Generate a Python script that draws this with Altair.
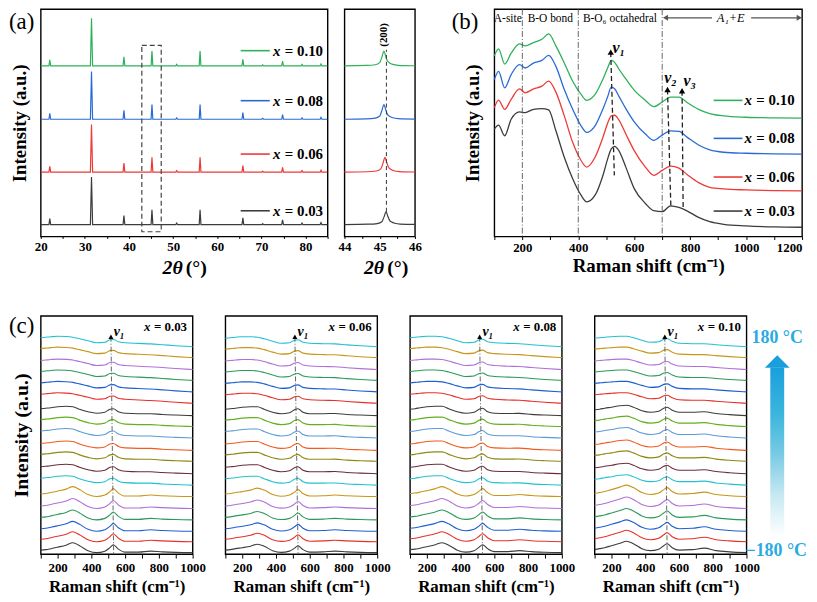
import altair as alt
import pandas as pd

FONT = "Liberation Serif"

# ---------------- (a) XRD ----------------
XRD_SAMPLES = ["0.03", "0.06", "0.08", "0.10"]
XRD_COLORS = ["#3c3c3c", "#ec3b36", "#2a6ad6", "#2fb15a"]
XRD_2THETA = [20, 21.85, 22.05, 22.25, 31.25, 31.5, 31.75, 38.65, 38.85, 39.05,
              45.0, 45.2, 45.4, 50.6, 50.8, 51.0, 55.9, 56.1, 56.3, 65.6, 65.8, 66.0,
              70.1, 70.3, 70.5, 74.6, 74.8, 75.0, 79.0, 79.2, 79.4, 83.3, 83.5, 83.7, 85]
XRD_INT = [0, 0, 12.5, 0, 0, 100, 0, 0, 19, 0,
           0, 31, 0, 0, 3, 0, 0, 31, 0, 0, 14, 0,
           0, 2, 0, 0, 10, 0, 0, 3, 0, 0, 4, 0, 0]
XRD_OFFSETS = [0, 110, 221, 333]
XRD_LEGEND_Y = [29, 148, 260, 365]

ZOOM_DX = [-1.3, -0.5, -0.25, -0.12, -0.06, 0.0, 0.05, 0.1, 0.16, 0.25, 0.4, 0.9]
ZOOM_SHAPE = [0.0, 0.03, 0.08, 0.22, 0.58, 1.0, 0.65, 0.33, 0.2, 0.1, 0.04, 0.01]
ZOOM_CENTERS = [45.18, 45.15, 45.12, 45.12]
ZOOM_HEIGHTS = [27, 31, 31, 31]

# ---------------- (b) Raman ----------------
B_SHIFT = [100, 115, 137, 160, 190, 210, 240, 270, 294, 320, 350, 380, 410, 430, 460, 490,
           505, 518, 530, 545, 570, 600, 640, 670, 700, 730, 760, 790, 830, 870, 920, 1000,
           1100, 1200]
B_I_003 = [325, 337, 305, 355, 377, 375, 385, 387, 383, 320, 240, 175, 125, 105, 125, 190,
           235, 265, 273, 260, 210, 145, 100, 78, 75, 93, 88, 77, 58, 45, 37, 32, 29, 28]
B_I_006 = [390, 413, 385, 415, 447, 435, 447, 455, 470, 437, 365, 285, 230, 210, 240, 305,
           343, 365, 367, 353, 310, 260, 210, 185, 200, 213, 207, 187, 163, 149, 144, 141,
           139, 138]
B_I_008 = [475, 500, 450, 490, 520, 510, 525, 533, 548, 515, 445, 385, 335, 315, 335, 390,
           423, 452, 447, 425, 387, 347, 310, 291, 307, 320, 318, 300, 277, 262, 255, 252,
           250, 249]
B_I_010 = [547, 568, 522, 555, 583, 577, 587, 597, 613, 577, 525, 470, 430, 412, 430, 480,
           510, 533, 527, 507, 477, 443, 412, 393, 407, 422, 422, 405, 385, 372, 365, 361,
           359, 358]
B_LEGEND_Y = [77, 180, 297, 412]

# ---------------- (c) temperature Raman ----------------
C_SHIFT = [100, 130, 160, 200, 250, 290, 330, 380, 430, 480, 510, 530, 560, 600, 680, 750,
           820, 900, 1000]
C003_LOW = [2.5, 3.0, 4.0, 5.5, 7.5, 10.0, 7.0, 2.0, 0.0, 1.5, 5.0, 8.0, 3.5, 0.5, 0.5, 1.5, 0.8, 0.3, 0]
C003_MID = [7.0, 7.5, 8.0, 9.0, 9.5, 9.0, 6.5, 4.0, 2.5, 3.5, 6.5, 7.0, 4.0, 2.5, 2.0, 2.0, 1.2, 0.6, 0]
C003_HIGH = [9.0, 9.5, 10.0, 10.5, 10.2, 9.5, 8.0, 6.0, 4.0, 4.5, 7.0, 7.3, 5.0, 4.0, 3.3, 2.8, 2.0, 1.0, 0]
C006_LOW = [2.5, 3.0, 4.0, 5.0, 6.5, 8.5, 6.5, 2.0, 0.3, 1.5, 4.5, 7.0, 3.0, 0.5, 0.8, 1.5, 0.8, 0.3, 0]
C006_MID = [6.5, 7.0, 7.5, 8.5, 9.0, 9.0, 6.5, 3.5, 2.0, 3.0, 6.0, 7.0, 3.5, 2.0, 2.0, 2.2, 1.2, 0.6, 0]
C006_HIGH = [8.5, 9.0, 9.5, 10.0, 10.0, 9.5, 8.0, 5.5, 3.5, 4.0, 6.5, 7.0, 4.5, 3.5, 3.0, 2.8, 1.8, 0.9, 0]
C008_LOW = [3.0, 3.5, 4.5, 6.0, 8.0, 10.0, 7.5, 2.5, 0.5, 2.0, 5.5, 8.0, 4.0, 1.0, 1.0, 2.0, 1.0, 0.4, 0]
C008_MID = [6.5, 7.0, 8.0, 9.0, 9.5, 9.5, 7.0, 4.0, 2.5, 3.5, 6.5, 7.5, 4.0, 2.5, 2.2, 2.3, 1.3, 0.6, 0]
C008_HIGH = [9.0, 9.5, 10.0, 10.5, 10.5, 10.0, 8.5, 6.0, 4.0, 4.5, 7.0, 7.5, 5.0, 4.0, 3.3, 3.0, 2.0, 1.0, 0]
C010_LOW = [3.0, 4.0, 5.0, 7.0, 9.5, 11.5, 9.0, 4.0, 2.0, 3.5, 7.0, 9.0, 5.0, 2.5, 3.0, 4.5, 2.0, 0.8, 0]
C010_MID = [6.0, 6.5, 7.5, 8.5, 10.0, 10.5, 8.5, 5.0, 3.5, 4.5, 7.5, 8.5, 5.5, 3.5, 3.5, 4.0, 2.2, 1.0, 0]
C010_HIGH = [8.5, 9.0, 9.5, 10.0, 10.5, 10.5, 9.0, 6.5, 4.5, 5.0, 7.5, 8.0, 5.5, 3.5, 3.0, 3.0, 2.0, 1.0, 0]
C_OFFSETS = [1.5, 12.5, 23, 34.5, 46, 58, 69.5, 81, 93.5, 104.5, 117, 128.5, 139.5, 152,
             163.5, 175, 186, 198, 209]
C_COLORS = ["#3d3d3d", "#e8302a", "#1f5fd4", "#2a9a5a", "#b070d8", "#c8961a", "#22c1d2",
            "#6b2d3b", "#8c8a12", "#f25a1e", "#5b9bd6", "#62b01e", "#3d3d3d", "#e8302a",
            "#1f5fd4", "#2a9a5a", "#b070d8", "#c8961a", "#22c1d2"]
C_V1_TOP = [516, 512, 513, 516]
C_V1_BOTTOM = [532, 531, 530, 530]

ONE = pd.DataFrame({"k": [0]})
TRACE_IDS = [f"T{k:02d}" for k in range(19)]


def ptext(txt, x, y, size=22, weight="normal", style="normal", align="left",
          baseline="top", color="black", angle=None):
    kw = dict(text=txt, font=FONT, fontSize=size, fontWeight=weight, fontStyle=style,
              align=align, baseline=baseline, color=color)
    if angle is not None:
        kw["angle"] = angle
    return alt.Chart(ONE).mark_text(**kw).encode(x=alt.value(x), y=alt.value(y))


def frame_box(w, h, left, right, top, bottom):
    # invisible box fixing the layout bounds of a panel
    return alt.Chart(ONE).mark_rect(opacity=0).encode(
        x=alt.value(-left), x2=alt.value(w + right),
        y=alt.value(-top), y2=alt.value(h + bottom))


H1, H2 = 229, 240
T1, B1 = 1, 44
T2, B2 = 3, 38

# ---------------- panel (a) ----------------
XA = alt.Scale(domain=[20, 85], nice=False, zero=False)
YA = alt.Scale(domain=[-25, 452], nice=False, zero=False)
CA = alt.Scale(domain=XRD_SAMPLES, range=XRD_COLORS)
AX_A = alt.Axis(values=list(range(20, 86, 5)),
                labelExpr="datum.value % 10 == 0 && datum.value <= 80 ? format(datum.value, 'd') : ''",
                title=None, tickSize=2, labelPadding=2, labelFontSize=13)
AY_A = alt.Axis(labels=False, ticks=False, title="Intensity (a.u.)", titleFontSize=19,
                titlePadding=11)


def xa(f):
    return alt.X(f, scale=XA, axis=AX_A)


def ya(f):
    return alt.Y(f, scale=YA, axis=AY_A)


rows = []
for s, off in zip(XRD_SAMPLES, XRD_OFFSETS):
    for t, v in zip(XRD_2THETA, XRD_INT):
        rows.append({"theta": t, "I": v + off, "smp": s})
df_a = pd.DataFrame(rows)

a_lines = alt.Chart(df_a).mark_line(strokeWidth=1.2, clip=True).encode(
    x=xa("theta:Q"), y=ya("I:Q"), color=alt.Color("smp:N", scale=CA, legend=None))
a_box = alt.Chart(pd.DataFrame({"t0": [42.9], "t1": [47.3], "i0": [-15], "i1": [376]})).mark_rect(
    fillOpacity=0, stroke="#444", strokeWidth=1.2, strokeDash=[5, 3]
).encode(x=xa("t0:Q"), x2="t1:Q", y=ya("i0:Q"), y2="i1:Q")
leg_a = pd.DataFrame({"smp": XRD_SAMPLES, "y": XRD_LEGEND_Y,
                      "x0": [65.3] * 4, "x1": [71.9] * 4, "xt": [72.6] * 4,
                      "lab": ["= " + s for s in XRD_SAMPLES]})
a_leg_rule = alt.Chart(leg_a).mark_rule(strokeWidth=1.6).encode(
    x=xa("x0:Q"), x2="x1:Q", y=ya("y:Q"), color=alt.Color("smp:N", scale=CA, legend=None))
a_leg_x = alt.Chart(leg_a).mark_text(align="left", baseline="middle", font=FONT, fontSize=15,
                                      fontWeight="bold", fontStyle="italic", color="black",
                                      text="x").encode(x=xa("xt:Q"), y=ya("y:Q"))
a_leg_t = alt.Chart(leg_a).mark_text(align="left", baseline="middle", font=FONT, fontSize=15,
                                      fontWeight="bold", color="black", dx=12).encode(
    x=xa("xt:Q"), y=ya("y:Q"), text="lab:N")

panel_a = alt.layer(
    a_lines, a_box, a_leg_rule, a_leg_x, a_leg_t,
    ptext("(a)", -32, 2, size=23),
    ptext("2θ", 143, 261, size=20, weight="bold", style="italic", align="right", baseline="middle"),
    ptext("(°)", 146, 261, size=20, weight="bold", align="left", baseline="middle"),
    frame_box(289, H1, 32, 7, T1, B1),
).properties(width=289, height=H1)

# ---------------- panel (a) zoom ----------------
XZ = alt.Scale(domain=[44, 46], nice=False, zero=False)
AX_Z = alt.Axis(values=[44, 44.5, 45, 45.5, 46],
                labelExpr="datum.value % 1 == 0 ? format(datum.value, 'd') : ''",
                title=None, tickSize=2, labelPadding=2, labelFontSize=13)


def xz(f):
    return alt.X(f, scale=XZ, axis=AX_Z)


def yz(f):
    return alt.Y(f, scale=YA, axis=None)


rows = []
for s, off, c, h in zip(XRD_SAMPLES, XRD_OFFSETS, ZOOM_CENTERS, ZOOM_HEIGHTS):
    for d, f in zip(ZOOM_DX, ZOOM_SHAPE):
        rows.append({"theta": c + d, "I": off + h * f, "smp": s})
df_a2 = pd.DataFrame(rows)

a2_lines = alt.Chart(df_a2).mark_line(strokeWidth=1.2, clip=True, interpolate="monotone").encode(
    x=xz("theta:Q"), y=yz("I:Q"), color=alt.Color("smp:N", scale=CA, legend=None))
a2_dash = alt.Chart(pd.DataFrame({"t": [45.19], "i0": [27], "i1": [367]})).mark_rule(
    color="#333", strokeWidth=1, strokeDash=[4, 3]).encode(x=xz("t:Q"), y=yz("i0:Q"), y2="i1:Q")
a2_lab = alt.Chart(pd.DataFrame({"t": [45.11], "i": [398]})).mark_text(
    text="(200)", angle=270, font=FONT, fontSize=11, fontWeight="bold",
    align="center", baseline="middle", color="black").encode(x=xz("t:Q"), y=yz("i:Q"))

panel_a2 = alt.layer(
    a2_lines, a2_dash, a2_lab,
    ptext("2θ", 40, 261, size=20, weight="bold", style="italic", align="right", baseline="middle"),
    ptext("(°)", 43, 261, size=20, weight="bold", align="left", baseline="middle"),
    frame_box(71, H1, 8, 33, T1, B1),
).properties(width=71, height=H1)

# ---------------- panel (b) ----------------
XB = alt.Scale(domain=[100, 1200], nice=False, zero=False)
YB = alt.Scale(domain=[0, 688], nice=False, zero=False)
AX_B = alt.Axis(values=list(range(100, 1201, 100)),
                labelExpr="datum.value % 200 == 0 ? format(datum.value, 'd') : ''",
                title="Raman shift (cm⁻¹)", titleFontSize=19, titlePadding=2,
                tickSize=3, labelPadding=2, labelFontSize=13, labelFlush=True)
AY_B = alt.Axis(labels=False, ticks=False, title="Intensity (a.u.)", titleFontSize=19,
                titlePadding=12)


def xb(f):
    return alt.X(f, scale=XB, axis=AX_B)


def yb(f):
    return alt.Y(f, scale=YB, axis=AY_B)


rows = []
for s, arr in zip(XRD_SAMPLES, [B_I_003, B_I_006, B_I_008, B_I_010]):
    for v, i in zip(B_SHIFT, arr):
        rows.append({"shift": v, "I": i, "smp": s})
df_b = pd.DataFrame(rows)

b_lines = alt.Chart(df_b).mark_line(strokeWidth=1.3, interpolate="monotone").encode(
    x=xb("shift:Q"), y=yb("I:Q"), color=alt.Color("smp:N", scale=CA, legend=None))
b_vlines = alt.Chart(pd.DataFrame({"v": [200, 400, 700]})).mark_rule(
    color="#555", strokeWidth=0.9, strokeDash=[6, 2, 1, 2]).encode(x=xb("v:Q"))
b_top = alt.Chart(pd.DataFrame({"v": [148, 300, 549], "i": [657] * 3,
                                "t": ["A-site", "B-O bond", "B-O₆ octahedral"]})).mark_text(
    font=FONT, fontSize=11.5, align="center", baseline="middle", color="black").encode(
    x=xb("v:Q"), y=yb("i:Q"), text="t:N")
b_arrow_rules = alt.Chart(pd.DataFrame({"v0": [712, 1018], "v1": [878, 1192], "i": [662, 662]})).mark_rule(
    color="#555", strokeWidth=1.2).encode(x=xb("v0:Q"), x2="v1:Q", y=yb("i:Q"))
b_arrow_l = alt.Chart(pd.DataFrame({"v": [712], "i": [662]})).mark_point(
    shape="triangle-left", filled=True, size=35, color="#555", opacity=1).encode(
    x=xb("v:Q"), y=yb("i:Q"))
b_arrow_r = alt.Chart(pd.DataFrame({"v": [1190], "i": [662]})).mark_point(
    shape="triangle-right", filled=True, size=35, color="#555", opacity=1).encode(
    x=xb("v:Q"), y=yb("i:Q"))
b_a1e = alt.Chart(pd.DataFrame({"v": [945], "i": [660]})).mark_text(
    text="A₁+E", font=FONT, fontSize=12.5, fontStyle="italic", align="center",
    baseline="middle", color="black").encode(x=xb("v:Q"), y=yb("i:Q"))
vdf = pd.DataFrame({"v0": [516, 719, 771], "i0": [558, 445, 441],
                    "v1": [529, 731, 775], "i1": [185, 90, 80],
                    "lv": [522, 707, 776], "li": [570, 480, 470],
                    "lab": ["v₁", "v₂", "v₃"]})
b_vdash = alt.Chart(vdf).mark_rule(color="#222", strokeWidth=1.3, strokeDash=[5, 3]).encode(
    x=xb("v0:Q"), x2="v1:Q", y=yb("i0:Q"), y2="i1:Q")
b_vtri = alt.Chart(vdf).mark_point(shape="triangle-up", filled=True, size=40, color="black",
                                   opacity=1).encode(x=xb("v0:Q"), y=yb("i0:Q"))
b_vlab = alt.Chart(vdf).mark_text(font=FONT, fontSize=16, fontStyle="italic", fontWeight="bold",
                                  align="left", baseline="middle", color="black").encode(
    x=xb("lv:Q"), y=yb("li:Q"), text="lab:N")
leg_b = pd.DataFrame({"smp": XRD_SAMPLES, "y": B_LEGEND_Y, "x0": [884] * 4, "x1": [987] * 4,
                      "xt": [994] * 4, "lab": ["= " + s for s in XRD_SAMPLES]})
b_leg_rule = alt.Chart(leg_b).mark_rule(strokeWidth=1.6).encode(
    x=xb("x0:Q"), x2="x1:Q", y=yb("y:Q"), color=alt.Color("smp:N", scale=CA, legend=None))
b_leg_x = alt.Chart(leg_b).mark_text(align="left", baseline="middle", font=FONT, fontSize=15,
                                      fontWeight="bold", fontStyle="italic", color="black",
                                      text="x").encode(x=xb("xt:Q"), y=yb("y:Q"))
b_leg_t = alt.Chart(leg_b).mark_text(align="left", baseline="middle", font=FONT, fontSize=15,
                                      fontWeight="bold", color="black", dx=12).encode(
    x=xb("xt:Q"), y=yb("y:Q"), text="lab:N")

panel_b = alt.layer(
    b_lines, b_vlines, b_top, b_arrow_rules, b_arrow_l, b_arrow_r, b_a1e,
    b_vdash, b_vtri, b_vlab, b_leg_rule, b_leg_x, b_leg_t,
    ptext("(b)", -43, 2, size=23),
    frame_box(310, H1, 45, 6, T1, B1),
).properties(width=310, height=H1)

# ---------------- panels (c) ----------------
XC = alt.Scale(domain=[100, 1000], nice=False, zero=False)
YC = alt.Scale(domain=[0, 240], nice=False, zero=False)
CC = alt.Scale(domain=TRACE_IDS, range=C_COLORS)
C_PROFILES = [(C003_LOW, C003_MID, C003_HIGH), (C006_LOW, C006_MID, C006_HIGH),
              (C008_LOW, C008_MID, C008_HIGH), (C010_LOW, C010_MID, C010_HIGH)]
C_LEFT = [32, 8, 8, 8]
C_RIGHT = [23, 23, 23, 62]
AX_C = alt.Axis(values=list(range(100, 1001, 100)),
                labelExpr="datum.value % 200 == 0 ? format(datum.value, 'd') : ''",
                title="Raman shift (cm⁻¹)", titleFontSize=17, titlePadding=4,
                tickSize=4, labelPadding=4, labelFontSize=13)
AY_C = alt.Axis(labels=False, ticks=False, title="Intensity (a.u.)",
                titleFontSize=20, titlePadding=9)


def c_panel(idx):
    low, mid, high = C_PROFILES[idx]
    yaxis = AY_C if idx == 0 else None

    def xc(f):
        return alt.X(f, scale=XC, axis=AX_C)

    def yc(f):
        return alt.Y(f, scale=YC, axis=yaxis)

    rows = []
    for k in range(19):
        prof = low if k < 6 else (mid if k < 13 else high)
        for v, p in zip(C_SHIFT, prof):
            rows.append({"shift": v, "I": C_OFFSETS[k] + p, "trace": TRACE_IDS[k]})
    df = pd.DataFrame(rows)
    lines = alt.Chart(df).mark_line(strokeWidth=1.1, interpolate="monotone").encode(
        x=xc("shift:Q"), y=yc("I:Q"), color=alt.Color("trace:N", scale=CC, legend=None))
    adf = pd.DataFrame({"v0": [C_V1_TOP[idx]], "i0": [219], "v1": [C_V1_BOTTOM[idx]],
                        "i1": [0], "lv": [C_V1_TOP[idx] + 16], "li": [224]})
    dash = alt.Chart(adf).mark_rule(color="#555", strokeWidth=0.9,
                                    strokeDash=[5, 2, 1, 2]).encode(
        x=xc("v0:Q"), x2="v1:Q", y=yc("i0:Q"), y2="i1:Q")
    tri = alt.Chart(adf).mark_point(shape="triangle-up", filled=True, size=25, color="black",
                                    opacity=1).encode(x=xc("v0:Q"), y=yc("i0:Q"))
    vlab = alt.Chart(adf).mark_text(text="v₁", font=FONT, fontSize=14, fontStyle="italic",
                                    fontWeight="bold", align="left", baseline="middle",
                                    color="black").encode(x=xc("lv:Q"), y=yc("li:Q"))
    layers = [lines, dash, tri, vlab,
              ptext("x", 104, 11, size=13, weight="bold", style="italic", baseline="middle"),
              ptext("= " + XRD_SAMPLES[idx], 114, 11, size=13, weight="bold", baseline="middle")]
    if idx == 0:
        layers.append(ptext("(c)", -32, -1, size=23))
    if idx == 3:
        grad = alt.LinearGradient(
            gradient="linear", x1=0, x2=0, y1=1, y2=0,
            stops=[alt.GradientStop(color="#ffffff", offset=0),
                   alt.GradientStop(color="#c4e8f1", offset=0.25),
                   alt.GradientStop(color="#74c9e2", offset=0.5),
                   alt.GradientStop(color="#3cb6de", offset=0.72),
                   alt.GradientStop(color="#1a9fdc", offset=1)])
        body = alt.Chart(ONE).mark_rect(fill=grad).encode(
            x=alt.value(177), x2=alt.value(191), y=alt.value(52), y2=alt.value(222))
        head = alt.Chart(ONE).mark_point(shape="M-1,0.5L0,-0.5L1,0.5Z", size=625, filled=True,
                                         color="#1a9fdc", opacity=1).encode(
            x=alt.value(184), y=alt.value(46))
        layers += [body, head,
                   ptext("180 °C", 184, 22, size=18, weight="bold", align="center",
                         baseline="middle", color="#29abe2"),
                   ptext("−180 °C", 183, 237, size=18, weight="bold", align="center",
                         baseline="middle", color="#29abe2")]
    layers.append(frame_box(153, H2, C_LEFT[idx], C_RIGHT[idx], T2, B2))
    return alt.layer(*layers).properties(width=153, height=H2)


c_panels = [c_panel(i) for i in range(4)]

row1 = alt.hconcat(panel_a, panel_a2, panel_b, spacing=0)
row2 = alt.hconcat(*c_panels, spacing=0)

chart = alt.vconcat(row1, row2, spacing=78 - B1 - T2).resolve_scale(
    color="independent"
).properties(
    padding={"left": 0, "top": -3, "right": 0, "bottom": 0}, background="white"
).configure_view(
    stroke="black", strokeWidth=1.4
).configure_axis(
    domain=False, grid=False, labelFont=FONT, labelFontWeight="bold", labelColor="black",
    titleFont=FONT, titleFontWeight="bold", titleColor="black", tickColor="black",
    labelFlush=False, labelOverlap=False
)

chart.save("out.html", embed_options={"renderer": "svg", "actions": False})
